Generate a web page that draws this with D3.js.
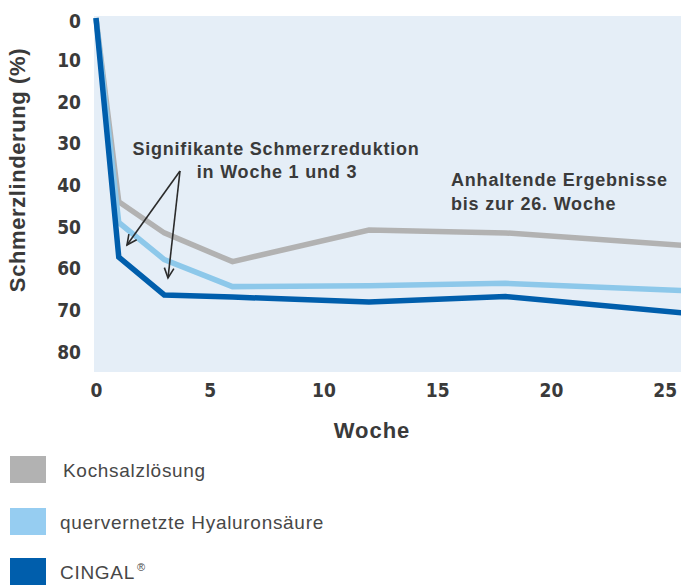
<!DOCTYPE html>
<html><head><meta charset="utf-8">
<script src="https://cdn.jsdelivr.net/npm/d3@7"></script>
<style>body{margin:0;background:#fff}svg{display:block}</style>
</head><body>
<svg id="c" width="681" height="585"></svg>
<script>
const weeks = [0, 1, 3, 6, 12, 18, 26];
const kochsalz = [0, 44.1, 51.6, 58.5, 50.9, 51.6, 54.7];
const hyaluron = [0, 49.1, 58, 64.5, 64.3, 63.7, 65.5];
const cingal = [0, 57.4, 66.5, 67, 68.2, 66.9, 70.9];
const xTicks = [0, 5, 10, 15, 20, 25];
const yTicks = [0, 10, 20, 30, 40, 50, 60, 70, 80];
const seriesNames = ["Kochsalzlösung", "quervernetzte Hyaluronsäure", "CINGAL"];
const colors = ["#b2b2b2", "#8dc8ea", "#005eac"];

const svg = d3.select("#c");
const x = d3.scaleLinear().domain([0, 26]).range([96, 687.5]);
const y = d3.scaleLinear().domain([0, 85]).range([18, 372]);
const textCol = "#3a3a3a";
const sans = "'Liberation Sans',Arial,sans-serif";
const condensed = "'Liberation Sans Narrow','DejaVu Sans Condensed','Liberation Sans',sans-serif";

svg.append("rect").attr("x", 94).attr("y", 16).attr("width", 681 - 94).attr("height", 372 - 16).attr("fill", "#e5eef7");

// y axis
const yAxis = d3.axisLeft(y).tickValues(yTicks).tickSize(0).tickPadding(0);
const gy = svg.append("g").attr("transform", "translate(81,0)").call(yAxis);
gy.select(".domain").remove();
gy.selectAll("text").attr("font-family", condensed).attr("font-weight", "bold")
  .attr("font-size", 19).attr("fill", textCol).attr("dy", "0.36em")
  .attr("transform", d => d === 0 ? "translate(0,3)" : null);

// x axis
const xAxis = d3.axisBottom(x).tickValues(xTicks).tickSize(0).tickPadding(0);
const gx = svg.append("g").attr("transform", "translate(0,383)").call(xAxis);
gx.select(".domain").remove();
gx.selectAll("text").attr("font-family", condensed).attr("font-weight", "bold")
  .attr("font-size", 19).attr("fill", textCol).attr("dy", "0.71em");

svg.append("text").attr("x", 372).attr("y", 438).attr("text-anchor", "middle")
  .attr("font-family", sans).attr("font-weight", "bold").attr("letter-spacing", 1)
  .attr("font-size", 22).attr("fill", textCol).text("Woche");

svg.append("text").attr("transform", "translate(25,170) rotate(-90)").attr("text-anchor", "middle")
  .attr("font-family", sans).attr("font-weight", "bold").attr("letter-spacing", 0.6)
  .attr("font-size", 22).attr("fill", textCol).text("Schmerzlinderung (%)");

// lines
const line = d3.line().x((d, i) => x(weeks[i])).y(d => y(d));
[kochsalz, hyaluron, cingal].forEach((s, k) => {
  svg.append("path").datum(s).attr("d", line).attr("fill", "none")
    .attr("stroke", colors[k]).attr("stroke-width", 5.5).attr("stroke-linejoin", "miter");
});

// annotations
const ann = svg.append("g").attr("font-family", sans)
  .attr("font-weight", "bold").attr("font-size", 18).attr("letter-spacing", 0.8).attr("fill", textCol);
ann.append("text").attr("x", 276).attr("y", 155).attr("text-anchor", "middle").text("Signifikante Schmerzreduktion");
ann.append("text").attr("x", 277).attr("y", 178).attr("text-anchor", "middle").text("in Woche 1 und 3");
ann.append("text").attr("x", 451).attr("y", 186).text("Anhaltende Ergebnisse");
ann.append("text").attr("x", 451).attr("y", 210).text("bis zur 26. Woche");

function arrow(x1, y1, x2, y2) {
  const a = Math.atan2(y2 - y1, x2 - x1), L = 11, w = 0.45;
  svg.append("line").attr("x1", x1).attr("y1", y1).attr("x2", x2).attr("y2", y2)
    .attr("stroke", "#2b2b2b").attr("stroke-width", 1.6);
  svg.append("path").attr("d",
    `M${x2 - L * Math.cos(a - w)},${y2 - L * Math.sin(a - w)}L${x2},${y2}L${x2 - L * Math.cos(a + w)},${y2 - L * Math.sin(a + w)}`)
    .attr("fill", "none").attr("stroke", "#2b2b2b").attr("stroke-width", 1.6);
}
arrow(180, 171, 127, 245);
arrow(180, 171, 168, 278);

// legend
const lg = svg.append("g");
const lgY = [456, 508, 558];
const lgFill = ["#b2b2b2", "#96cdf1", "#005eac"];
seriesNames.forEach((n, i) => {
  lg.append("rect").attr("x", 10).attr("y", lgY[i]).attr("width", 36).attr("height", 27).attr("fill", lgFill[i]);
  const t = lg.append("text").attr("x", i === 0 ? 63 : 60).attr("y", lgY[i] + 21)
    .attr("font-family", sans).attr("font-size", 19).attr("letter-spacing", 0.7)
    .attr("fill", "#474747").text(n);
  if (i === 2) t.append("tspan").attr("font-size", 11).attr("dy", -8).attr("dx", 2).text("®");
});
</script>
</body></html>
